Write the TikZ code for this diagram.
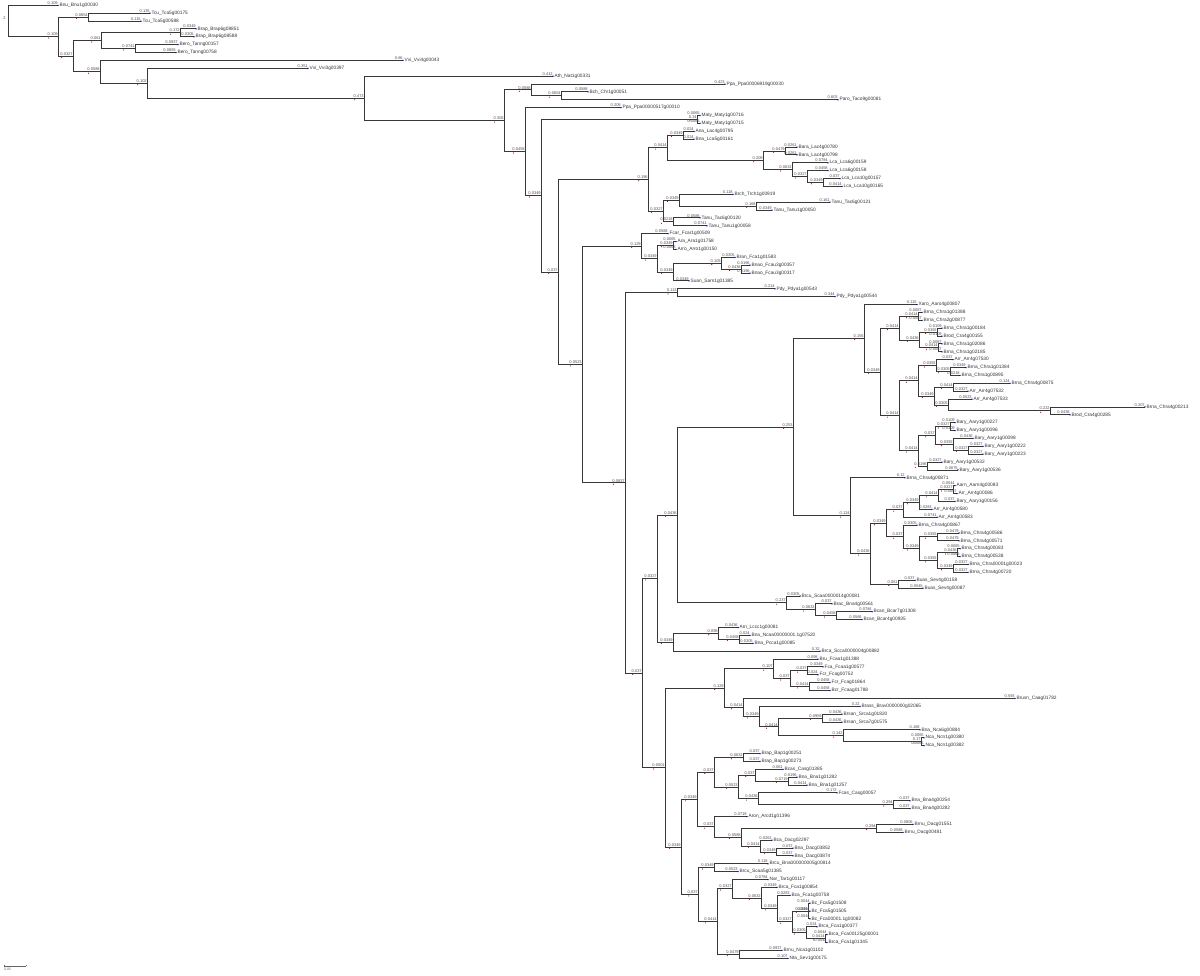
\documentclass[tikz,border=0pt]{standalone}
\usepackage{fontspec}
\setmainfont{Liberation Sans}
\usetikzlibrary{calc}
\newdimen\dA \newdimen\dB
\tikzset{
 br/.style={draw=black!78, line width=0.95pt},
 lab/.style={anchor=south east, inner sep=0pt, outer sep=0pt, yshift=0.9pt, xshift=-0.3pt, font=\fontsize{4}{4}\selectfont, text=black!70},
 leafname/.style={anchor=west, inner sep=0pt, xshift=1.4pt, font=\fontsize{4.8}{5}\selectfont, text=black!80},
 small/.style={inner sep=0pt, font=\fontsize{4}{4}\selectfont, text=black!70},
}
\pgfkeys{/pgf/number format/assume math mode=true}
\newcommand\leaf[3]{\coordinate (L#1) at (#2,{5.3+7.876*#1});%
  \expandafter\def\csname isleaf@L#1\endcsname{}%
  \node[leafname] (n#1) at (L#1) {\detokenize{#3}};}
\newcommand\inode[4]{\path let \p1=(#3), \p2=(#4) in (#2pt,{0.5*(\y1)+0.5*(\y2)}) coordinate (#1);}
\newcommand\ch[2]{%
  \draw[br] (#1) |- (#2);%
  \pgfextractx{\dA}{\pgfpointanchor{#1}{center}}%
  \pgfextractx{\dB}{\pgfpointanchor{#2}{center}}%
  \pgfmathsetmacro\blv{(\dB-\dA)/459}%
  \node[lab] (b#2) at (#2) {\ifdim\blv pt<0.0015pt 1e-06\else\ifdim\blv pt<0.1pt\pgfmathprintnumber[fixed,precision=4]{\blv}\else\pgfmathprintnumber[fixed,precision=3]{\blv}\fi\fi};%
  \ifcsname isleaf@#2\endcsname
    \fill[blue!75!black] (#2) circle (0.75);%
  \else
    \fill[red!85!black] ([xshift=1pt,yshift=-2.2pt]b#2.south west) circle (0.6);%
  \fi}
\newcommand\kids[2]{\foreach \c in {#2}{\ch{#1}{\c}}}
\begin{document}
\begin{tikzpicture}[x=1pt,y=-1pt]
\useasboundingbox (0,0) rectangle (1200,976);
% ---------------- leaves
\leaf{0}{58}{Bnu_Bnu1g00030}
\leaf{1}{150}{Tcu_Tca5g00175}
\leaf{2}{141}{Tcu_Tca5g00588}
\leaf{3}{196}{Brap_Brap6g08851}
\leaf{4}{194}{Brap_Brap6g08588}
\leaf{5}{178}{Bero_Tanng00157}
\leaf{6}{176}{Bero_Tanng00758}
\leaf{7}{403}{Vvi_Vvi4g00043}
\leaf{8}{308}{Vvi_Vvi3g00397}
\leaf{9}{553}{Ath_Nat1g00331}
\leaf{10}{725}{Ppa_Ppa00006919g00030}
\leaf{11}{588}{Bch_Chr1g00051}
\leaf{12}{838}{Paro_Taco9g00081}
\leaf{13}{621}{Ppa_Ppa00000517g00010}
\leaf{14}{700}{Maty_Maty1g00716}
\leaf{15}{700}{Maty_Maty1g00715}
\leaf{16}{694}{Ana_Lac4g00795}
\leaf{17}{694}{Bna_Lca5g00161}
\leaf{18}{797}{Bara_Lac4g00780}
\leaf{19}{797}{Bara_Lac4g00798}
\leaf{20}{828}{Lca_Lca6g00159}
\leaf{21}{828}{Lca_Lca6g00158}
\leaf{22}{840}{Lca_Lca10g00157}
\leaf{23}{842}{Lca_Lca10g00165}
\leaf{24}{733}{Brch_Trch1g00919}
\leaf{25}{830}{Tanu_Tac6g00121}
\leaf{26}{772}{Tanu_Tanu1g00050}
\leaf{27}{700}{Tanu_Tac6g00120}
\leaf{28}{707}{Tanu_Tanu1g00058}
\leaf{29}{668}{Fcar_Fcar1g00509}
\leaf{30}{676}{Ara_Ara1g01758}
\leaf{31}{676}{Arro_Arro1g00150}
\leaf{32}{735}{Bran_Fca1g01583}
\leaf{33}{750}{Bnao_Fcau3g00357}
\leaf{34}{750}{Bnao_Fcau3g00317}
\leaf{35}{689}{Suan_Sam1g01385}
\leaf{36}{775}{Pdy_Pdya1g00543}
\leaf{37}{835}{Pdy_Pdya1g00544}
\leaf{38}{917}{Xaro_Aaro4g00807}
\leaf{39}{922}{Brna_Chra1g01388}
\leaf{40}{922}{Brna_Chra2g00877}
\leaf{41}{942}{Brna_Chra1g00184}
\leaf{42}{942}{Brod_Cra4g00155}
\leaf{43}{942}{Brna_Chra1g02086}
\leaf{44}{942}{Brna_Chra1g02185}
\leaf{45}{953}{Arr_Arr4g07530}
\leaf{46}{966}{Brna_Chra1g01384}
\leaf{47}{960}{Brna_Chra1g00895}
\leaf{48}{1010}{Brna_Chra4g00875}
\leaf{49}{968}{Arr_Arr4g07532}
\leaf{50}{972}{Arr_Arr4g07533}
\leaf{51}{1145}{Brna_Chra4g00213}
\leaf{52}{1070}{Brod_Cra4g00285}
\leaf{53}{955}{Bary_Aary1g00227}
\leaf{54}{955}{Bary_Aary1g00096}
\leaf{55}{973}{Bary_Aary1g00098}
\leaf{56}{983}{Bary_Aary1g00222}
\leaf{57}{983}{Bary_Aary1g00223}
\leaf{58}{942}{Bary_Aary1g00532}
\leaf{59}{958}{Bary_Aary1g00536}
\leaf{60}{905}{Brna_Chra4g00871}
\leaf{61}{955}{Aarn_Aarn4g00083}
\leaf{62}{957}{Arr_Arr4g00086}
\leaf{63}{955}{Bary_Aary1g00156}
\leaf{64}{932}{Arr_Arr4g00580}
\leaf{65}{937}{Arr_Arr4g00583}
\leaf{66}{917}{Brna_Chra4g00867}
\leaf{67}{959}{Brna_Chra4g00586}
\leaf{68}{959}{Brna_Chra4g00571}
\leaf{69}{960}{Brna_Chra4g00083}
\leaf{70}{960}{Brna_Chra4g00538}
\leaf{71}{968}{Brna_Chra00001g00023}
\leaf{72}{968}{Brna_Chra4g00720}
\leaf{73}{915}{Buas_Sev4g00158}
\leaf{74}{923}{Buas_Sev4g00087}
\leaf{75}{800}{Brcu_Scaa0000014g00081}
\leaf{76}{832}{Brac_Bna4g00561}
\leaf{77}{872}{Bcan_Bcar7g01308}
\leaf{78}{862}{Bcan_Bcar4g00935}
\leaf{79}{738}{Arn_Lccc1g00081}
\leaf{80}{750}{Bna_Ncaa00000001.1g07520}
\leaf{81}{753}{Bna_Pcca1g00085}
\leaf{82}{820}{Brca_Scca0000004g00882}
\leaf{83}{818}{Bru_Fcaa1g01388}
\leaf{84}{823}{Fca_Fcaa1g00577}
\leaf{85}{818}{Fcr_Fcag00752}
\leaf{86}{830}{Fcr_Fcag01864}
\leaf{87}{830}{Bcr_Fcaag01788}
\leaf{88}{1015}{Brusn_Caag01782}
\leaf{89}{860}{Brass_Brav0000000g02065}
\leaf{90}{842}{Brsan_Srca1g01820}
\leaf{91}{842}{Brsan_Srca7g01575}
\leaf{92}{920}{Bna_Nca6g00884}
\leaf{93}{924}{Nca_Ncn1g00380}
\leaf{94}{924}{Nca_Ncn1g00382}
\leaf{95}{760}{Brap_Bap1g00251}
\leaf{96}{760}{Brap_Bap1g00273}
\leaf{97}{783}{Bcas_Casg01385}
\leaf{98}{797}{Bna_Bna1g01282}
\leaf{99}{807}{Bna_Bna1g01257}
\leaf{100}{837}{Fcas_Casg00057}
\leaf{101}{910}{Bna_Bna4g00254}
\leaf{102}{910}{Bna_Bna4g00282}
\leaf{103}{747}{Aron_Arcd1g01396}
\leaf{104}{913}{Brnu_Dacg01551}
\leaf{105}{903}{Brnu_Dacg00481}
\leaf{106}{772}{Bca_Dacg02297}
\leaf{107}{793}{Bna_Dacg03852}
\leaf{108}{793}{Bna_Dacg03874}
\leaf{109}{768}{Brcu_Bna000000005g00814}
\leaf{110}{738}{Brcu_Scaa5g01385}
\leaf{111}{768}{Nar_Tar1g00117}
\leaf{112}{777}{Brca_Fca1g00854}
\leaf{113}{790}{Bca_Fca1g00758}
\leaf{114}{810}{Bc_Fca5g01508}
\leaf{115}{810}{Bc_Fca5g01505}
\leaf{116}{810}{Bc_Fca00001.1g00082}
\leaf{117}{817}{Brca_Fca1g00377}
\leaf{118}{827}{Brca_Fca00125g00001}
\leaf{119}{827}{Brca_Fca1g01345}
\leaf{120}{782}{Brnu_Nca1g01102}
\leaf{121}{788}{Nta_Sev1g00175}
% ---------------- internal nodes (children first)
\inode{B}{88}{L1}{L2}
\inode{F}{180}{L3}{L4}
\inode{G}{135}{L5}{L6}
\inode{D}{101}{F}{G}
\inode{N}{561}{L11}{L12}
\inode{K}{531}{L10}{N}
\inode{Q}{697}{L14}{L15}
\inode{T11}{683}{L16}{L17}
\inode{T121}{785}{L18}{L19}
\inode{T12211}{823}{L22}{L23}
\inode{T1221}{807}{L21}{T12211}
\inode{T122}{792}{L20}{T1221}
\inode{T12}{763}{T121}{T122}
\inode{T1}{667}{T11}{T12}
\inode{T211}{756}{L25}{L26}
\inode{T21}{679}{L24}{T211}
\inode{T22}{673}{L27}{L28}
\inode{T2}{663}{T21}{T22}
\inode{T}{648}{T1}{T2}
\inode{V11}{673}{L30}{L31}
\inode{V1211}{741}{L33}{L34}
\inode{V121}{721}{L32}{V1211}
\inode{V12}{673}{V121}{L35}
\inode{V1}{657}{V11}{V12}
\inode{V}{641}{L29}{V1}
\inode{X}{677}{L36}{L37}
\inode{GG1}{918}{L39}{L40}
\inode{GG21}{937}{L41}{L42}
\inode{GG22}{938}{L43}{L44}
\inode{GG2}{919}{GG21}{GG22}
\inode{GG}{899}{GG1}{GG2}
\inode{HH111}{950}{L46}{L47}
\inode{HH11}{936}{L45}{HH111}
\inode{HH121}{953}{L48}{L49}
\inode{HH1221}{1050}{L51}{L52}
\inode{HH122}{948}{L50}{HH1221}
\inode{HH12}{934}{HH121}{HH122}
\inode{HH1}{918}{HH11}{HH12}
\inode{HH211}{950}{L53}{L54}
\inode{HH2121}{968}{L56}{L57}
\inode{HH212}{953}{L55}{HH2121}
\inode{HH21}{935}{HH211}{HH212}
\inode{HH22}{927}{L58}{L59}
\inode{HH2}{918}{HH21}{HH22}
\inode{HH}{899}{HH1}{HH2}
\inode{FF}{880}{GG}{HH}
\inode{DD}{864}{L38}{FF}
\inode{E6}{953}{L61}{L62}
\inode{E5}{938}{E6}{L63}
\inode{E4}{919}{E5}{L64}
\inode{E3}{903}{E4}{L65}
\inode{E9}{937}{L67}{L68}
\inode{E11}{957}{L69}{L70}
\inode{E12}{953}{L71}{L72}
\inode{E10}{937}{E11}{E12}
\inode{E8}{919}{E9}{E10}
\inode{E7}{903}{L66}{E8}
\inode{E2}{886}{E3}{E7}
\inode{E13}{898}{L73}{L74}
\inode{E1}{870}{E2}{E13}
\inode{EE}{850}{L60}{E1}
\inode{BB}{793}{DD}{EE}
\inode{CC11}{836}{L77}{L78}
\inode{CC1}{815}{L76}{CC11}
\inode{CC}{786}{L75}{CC1}
\inode{Z1}{677}{BB}{CC}
\inode{Z211}{739}{L80}{L81}
\inode{Z21}{718}{L79}{Z211}
\inode{Z2}{673}{Z21}{L82}
\inode{Z}{657}{Z1}{Z2}
\inode{AB111}{807}{L84}{L85}
\inode{AB112}{809}{L86}{L87}
\inode{AB11}{790}{AB111}{AB112}
\inode{AB1}{773}{L83}{AB11}
\inode{AB2111}{822}{L90}{L91}
\inode{AB21121}{921}{L93}{L94}
\inode{AB2112}{843}{L92}{AB21121}
\inode{AB211}{778}{AB2111}{AB2112}
\inode{AB21}{759}{L89}{AB211}
\inode{AB2}{743}{L88}{AB21}
\inode{AB}{724}{AB1}{AB2}
\inode{AD11}{743}{L95}{L96}
\inode{AD1211}{788}{L98}{L99}
\inode{AD121}{755}{L97}{AD1211}
\inode{AD1221}{893}{L101}{L102}
\inode{AD122}{758}{L100}{AD1221}
\inode{AD12}{738}{AD121}{AD122}
\inode{AD1}{714}{AD11}{AD12}
\inode{AD211}{876}{L104}{L105}
\inode{AD2121}{776}{L107}{L108}
\inode{AD212}{760}{L106}{AD2121}
\inode{AD21}{741}{AD211}{AD212}
\inode{AD2}{714}{L103}{AD21}
\inode{AD}{697}{AD1}{AD2}
\inode{AE1}{714}{L109}{L110}
\inode{AE211111}{808}{L114}{L116}
\inode{AE2111121}{825}{L118}{L119}
\inode{AE211112}{806}{L117}{AE2111121}
\inode{AE21111}{792}{AE211111}{AE211112}
\inode{AE2111}{777}{L113}{AE21111}
\inode{AE211}{761}{L112}{AE2111}
\inode{AE21}{732}{L111}{AE211}
\inode{AE22}{739}{L120}{L121}
\inode{AE2}{717}{AE21}{AE22}
\inode{AE}{698}{AE1}{AE2}
\inode{AC}{681}{AD}{AE}
\inode{AA}{665}{AB}{AC}
\inode{Y}{642}{Z}{AA}
\inode{W}{625}{X}{Y}
\inode{U}{582}{V}{W}
\inode{S}{558}{T}{U}
\inode{P}{541}{Q}{S}
\inode{M}{525}{L13}{P}
\inode{J}{504}{K}{M}
\inode{I}{364}{L9}{J}
\inode{H}{147}{L8}{I}
\inode{E}{100}{L7}{H}
\inode{C}{73}{D}{E}
\inode{A}{58}{B}{C}
\inode{R}{8}{L0}{A}
% ---------------- connectors
\kids{R}{L0,A}
\kids{A}{B,C}
\kids{B}{L1,L2}
\kids{C}{D,E}
\kids{D}{F,G}
\kids{F}{L3,L4}
\kids{G}{L5,L6}
\kids{E}{L7,H}
\kids{H}{L8,I}
\kids{I}{L9,J}
\kids{J}{K,M}
\kids{K}{L10,N}
\kids{N}{L11,L12}
\kids{M}{L13,P}
\kids{P}{Q,S}
\kids{Q}{L14,L15}
\kids{S}{T,U}
\kids{T}{T1,T2}
\kids{T1}{T11,T12}
\kids{T11}{L16,L17}
\kids{T12}{T121,T122}
\kids{T121}{L18,L19}
\kids{T122}{L20,T1221}
\kids{T1221}{L21,T12211}
\kids{T12211}{L22,L23}
\kids{T2}{T21,T22}
\kids{T21}{L24,T211}
\kids{T211}{L25,L26}
\kids{T22}{L27,L28}
\kids{U}{V,W}
\kids{V}{L29,V1}
\kids{V1}{V11,V12}
\kids{V11}{L30,L31}
\kids{V12}{V121,L35}
\kids{V121}{L32,V1211}
\kids{V1211}{L33,L34}
\kids{W}{X,Y}
\kids{X}{L36,L37}
\kids{Y}{Z,AA}
\kids{Z}{Z1,Z2}
\kids{Z1}{BB,CC}
\kids{BB}{DD,EE}
\kids{DD}{L38,FF}
\kids{FF}{GG,HH}
\kids{GG}{GG1,GG2}
\kids{GG1}{L39,L40}
\kids{GG2}{GG21,GG22}
\kids{GG21}{L41,L42}
\kids{GG22}{L43,L44}
\kids{HH}{HH1,HH2}
\kids{HH1}{HH11,HH12}
\kids{HH11}{L45,HH111}
\kids{HH111}{L46,L47}
\kids{HH12}{HH121,HH122}
\kids{HH121}{L48,L49}
\kids{HH122}{L50,HH1221}
\kids{HH1221}{L51,L52}
\kids{HH2}{HH21,HH22}
\kids{HH21}{HH211,HH212}
\kids{HH211}{L53,L54}
\kids{HH212}{L55,HH2121}
\kids{HH2121}{L56,L57}
\kids{HH22}{L58,L59}
\kids{EE}{L60,E1}
\kids{E1}{E2,E13}
\kids{E2}{E3,E7}
\kids{E3}{E4,L65}
\kids{E4}{E5,L64}
\kids{E5}{E6,L63}
\kids{E6}{L61,L62}
\kids{E7}{L66,E8}
\kids{E8}{E9,E10}
\kids{E9}{L67,L68}
\kids{E10}{E11,E12}
\kids{E11}{L69,L70}
\kids{E12}{L71,L72}
\kids{E13}{L73,L74}
\kids{CC}{L75,CC1}
\kids{CC1}{L76,CC11}
\kids{CC11}{L77,L78}
\kids{Z2}{Z21,L82}
\kids{Z21}{L79,Z211}
\kids{Z211}{L80,L81}
\kids{AA}{AB,AC}
\kids{AB}{AB1,AB2}
\kids{AB1}{L83,AB11}
\kids{AB11}{AB111,AB112}
\kids{AB111}{L84,L85}
\kids{AB112}{L86,L87}
\kids{AB2}{L88,AB21}
\kids{AB21}{L89,AB211}
\kids{AB211}{AB2111,AB2112}
\kids{AB2111}{L90,L91}
\kids{AB2112}{L92,AB21121}
\kids{AB21121}{L93,L94}
\kids{AC}{AD,AE}
\kids{AD}{AD1,AD2}
\kids{AD1}{AD11,AD12}
\kids{AD11}{L95,L96}
\kids{AD12}{AD121,AD122}
\kids{AD121}{L97,AD1211}
\kids{AD1211}{L98,L99}
\kids{AD122}{L100,AD1221}
\kids{AD1221}{L101,L102}
\kids{AD2}{L103,AD21}
\kids{AD21}{AD211,AD212}
\kids{AD211}{L104,L105}
\kids{AD212}{L106,AD2121}
\kids{AD2121}{L107,L108}
\kids{AE}{AE1,AE2}
\kids{AE1}{L109,L110}
\kids{AE2}{AE21,AE22}
\kids{AE21}{L111,AE211}
\kids{AE211}{L112,AE2111}
\kids{AE2111}{L113,AE21111}
\kids{AE21111}{AE211111,AE211112}
\kids{AE211111}{L114,L115,L116}
\kids{AE211112}{L117,AE2111121}
\kids{AE2111121}{L118,L119}
\kids{AE22}{L120,L121}
% root label and mark
\node[small] (rootlab) at (4.5,18.5) {2};
\fill[red!85!black] (8.5,24) circle (0.6);
% scale bar
\coordinate (sb1) at (4,966);
\coordinate (sb2) at (26,966);
\draw[black!60, line width=0.6pt] (sb1) -- (sb2);
\draw[black!60, line width=0.5pt] (sb1) -- ++(0,-1.5) (sb2) -- ++(0,-1.5);
\node[small, anchor=north west, text=black!60, font=\fontsize{3.5}{4}\selectfont] (sblab) at (4,967.5) {0.05};
\end{tikzpicture}
\end{document}
